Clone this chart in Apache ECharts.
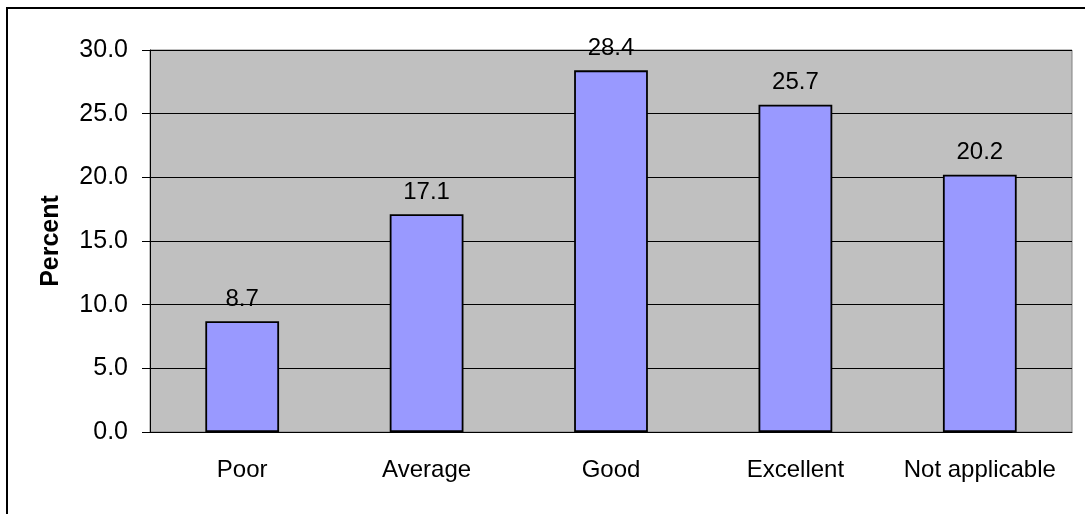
<!DOCTYPE html>
<html>
<head>
	<meta charset="utf-8">
	<title>Percent by rating</title>
	<script type="text/javascript" src="https://cdn.jsdelivr.net/npm/echarts@6.0.0/dist/echarts.min.js"></script>
	<style>
		html, body { margin: 0; padding: 0; background: #fff; }
		#chart { width: 1085px; height: 514px; }
	</style>
</head>
<body>
	<div id="chart"></div>
	<script type="text/javascript">
		const categories = ['Poor', 'Average', 'Good', 'Excellent', 'Not applicable'];
		const percents = [8.7, 17.1, 28.4, 25.7, 20.2];
		const yTicks = { min: 0, max: 30, interval: 5 };

		const font = '"Liberation Sans", Arial, sans-serif';

		const chart = echarts.init(document.getElementById('chart'));
		chart.setOption({
			animation: false,
			backgroundColor: '#ffffff',
			textStyle: { fontFamily: font },
			graphic: [{
				type: 'rect',
				shape: { x: 7, y: 8, width: 2000, height: 2000 },
				style: { fill: 'none', stroke: '#000', lineWidth: 2 },
				silent: true
			}],
			grid: {
				left: 150, top: 50, right: 13, bottom: 82,
				show: true,
				backgroundColor: '#c0c0c0',
				borderColor: '#808080',
				borderWidth: 1
			},
			xAxis: {
				type: 'category',
				data: categories,
				axisLine: { lineStyle: { color: '#000', width: 1 } },
				axisTick: { length: 9, lineStyle: { color: '#000' } },
				axisLabel: { color: '#000', fontSize: 24, fontFamily: font, margin: 26, interval: 0 }
			},
			yAxis: {
				type: 'value',
				min: yTicks.min,
				max: yTicks.max,
				interval: yTicks.interval,
				name: 'Percent',
				nameLocation: 'middle',
				nameGap: 86,
				nameTextStyle: { color: '#000', fontSize: 25, fontWeight: 'bold', fontFamily: font },
				axisLine: { show: true, lineStyle: { color: '#000', width: 1 } },
				axisTick: { show: true, length: 8, lineStyle: { color: '#000' } },
				axisLabel: {
					color: '#000', fontSize: 25, fontFamily: font, margin: 22,
					formatter: v => v.toFixed(1)
				},
				splitLine: { lineStyle: { color: '#000', width: 1 } }
			},
			series: [{
				type: 'bar',
				data: percents,
				barWidth: '40%',
				itemStyle: { color: '#9999ff', borderColor: '#000', borderWidth: 1.8 },
				label: {
					show: true,
					position: 'top',
					distance: 10,
					color: '#000',
					fontSize: 24,
					fontFamily: font,
					formatter: p => p.value.toFixed(1)
				}
			}]
		});
	</script>
</body>
</html>
